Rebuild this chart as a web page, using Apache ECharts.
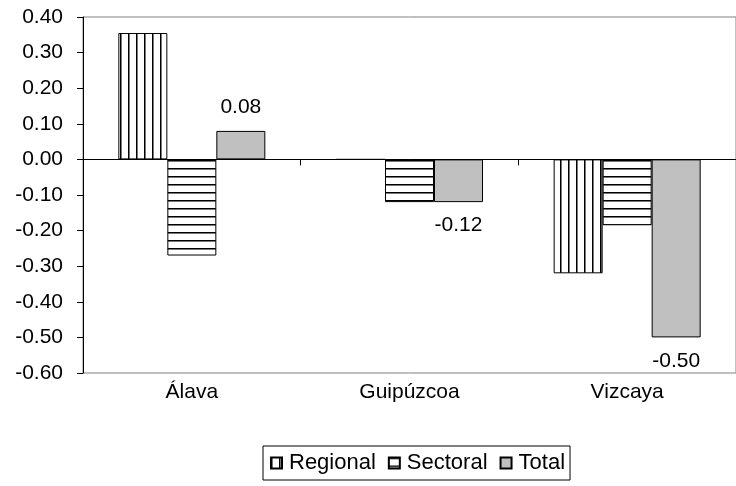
<!DOCTYPE html>
<html><head><meta charset="utf-8">
<script src="https://cdn.jsdelivr.net/npm/echarts@6/dist/echarts.min.js"></script>
<style>html,body{margin:0;padding:0;background:#fff}#c{width:736px;height:486px}</style>
</head><body><div id="c"></div>
<script>
const categories = ['Álava', 'Guipúzcoa', 'Vizcaya'];
const seriesNames = ['Regional', 'Sectoral', 'Total'];
const regional = [0.355, 0.00, -0.32];
const sectoral = [-0.27, -0.12, -0.185];
const total = [0.08, -0.12, -0.50];
const yMin = -0.6, yMax = 0.4, yStep = 0.1;

function stripe(vertical) {
  const c = document.createElement('canvas');
  c.width = 8; c.height = 8;
  const g = c.getContext('2d');
  g.fillStyle = '#fff'; g.fillRect(0, 0, 8, 8);
  g.fillStyle = '#000';
  if (vertical) { g.fillRect(0, 0, 1, 8); g.fillStyle = '#777'; g.fillRect(1, 0, 1, 8); }
  else { g.fillRect(0, 0, 8, 1); g.fillStyle = '#777'; g.fillRect(0, 1, 8, 1); }
  return c;
}
const vPat = { image: stripe(true), repeat: 'repeat' };
const hPat = { image: stripe(false), repeat: 'repeat' };

const FONT = 'Liberation Sans, Arial, sans-serif';
const FS = 21;
const chart = echarts.init(document.getElementById('c'), null, { renderer: 'canvas' });
chart.setOption({
  animation: false,
  backgroundColor: '#fff',
  textStyle: { fontFamily: FONT, color: '#000' },
  grid: { left: 83, top: 17, width: 662, height: 356, show: true, borderColor: '#808080', borderWidth: 1, backgroundColor: 'transparent' },
  legend: {
    left: 263, top: 446, orient: 'horizontal',
    data: seriesNames,
    borderColor: '#000', borderWidth: 1, padding: [6, 5, 6, 7],
    itemWidth: 11, itemHeight: 11, itemGap: 12,
    icon: 'rect',
    textStyle: { fontFamily: FONT, fontSize: 22, color: '#000', padding: [0, 0, 0, 2] }
  },
  xAxis: [
    {
      type: 'category', data: categories,
      axisLine: { onZero: true, lineStyle: { color: '#000', width: 1 } },
      axisTick: { show: true, alignWithLabel: false, length: 6, lineStyle: { color: '#000' } },
      axisLabel: { show: false }
    },
    {
      type: 'category', data: categories, position: 'bottom',
      axisLine: { show: false }, axisTick: { show: false },
      axisLabel: { show: true, fontFamily: FONT, fontSize: FS, color: '#000', margin: 9 }
    }
  ],
  yAxis: {
    type: 'value', min: yMin, max: yMax, interval: yStep,
    axisLine: { show: true, lineStyle: { color: '#000' } },
    axisTick: { show: true, length: 6, lineStyle: { color: '#000' } },
    splitLine: { show: false },
    axisLabel: { fontFamily: FONT, fontSize: FS, color: '#000', margin: 20, formatter: v => v.toFixed(2) }
  },
  series: [
    { name: 'Regional', type: 'bar', data: regional, barWidth: 49, barGap: '0%',
      itemStyle: { color: vPat, borderColor: '#000', borderWidth: 1 } },
    { name: 'Sectoral', type: 'bar', data: sectoral, barWidth: 49, barGap: '0%',
      itemStyle: { color: hPat, borderColor: '#000', borderWidth: 1 } },
    { name: 'Total', type: 'bar', barWidth: 49, barGap: '0%',
      data: total.map(v => ({ value: v, label: { position: v >= 0 ? 'top' : 'bottom' } })),
      itemStyle: { color: '#c0c0c0', borderColor: '#000', borderWidth: 1 },
      label: { show: true, distance: 13, fontFamily: FONT, fontSize: FS, color: '#000', formatter: p => p.value.toFixed(2) } }
  ]
});
</script></body></html>
